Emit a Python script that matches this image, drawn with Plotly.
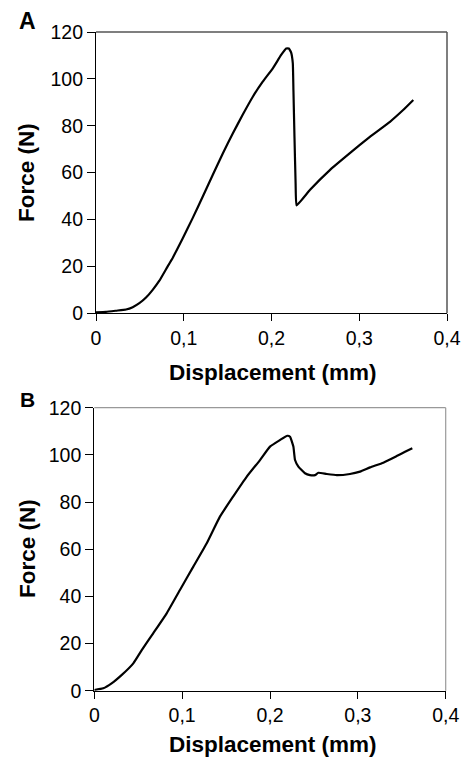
import plotly.graph_objects as go

# Panel A data (displacement mm, force N)
disp_a = [0.0, 0.0114, 0.0228, 0.0342, 0.0418, 0.0494, 0.057, 0.0646, 0.0722, 0.0798,
          0.0875, 0.0989, 0.110, 0.1217, 0.133, 0.1445, 0.156, 0.167, 0.1787, 0.190,
          0.2015, 0.211, 0.2167, 0.2198, 0.2224, 0.2243, 0.2250, 0.2262, 0.2275, 0.2285,
          0.2437, 0.2665, 0.2893, 0.3121, 0.335, 0.350, 0.3616]
force_a = [0.4, 0.6, 1.1, 1.6, 2.6, 4.3, 6.7, 10.0, 13.9, 18.8,
           23.7, 32.0, 40.5, 49.8, 59.0, 68.2, 76.8, 84.6, 92.4, 98.8,
           104.5, 110.2, 113.0, 113.0, 111.2, 106.6, 95.0, 75.0, 55.0, 46.0,
           52.6, 61.1, 68.3, 75.3, 81.7, 86.7, 91.0]

# Panel B data
disp_b = [0.0, 0.0102, 0.0197, 0.031, 0.0444, 0.054, 0.067, 0.0824, 0.0975, 0.1127,
          0.128, 0.143, 0.158, 0.1734, 0.1886, 0.2, 0.2114, 0.2197, 0.2228, 0.2266,
          0.2285, 0.2323, 0.2398, 0.2455, 0.2512, 0.255, 0.2645, 0.276, 0.291, 0.3025,
          0.3139, 0.329, 0.3442, 0.3537, 0.362]
force_b = [0.3, 1.0, 3.1, 6.6, 11.6, 17.2, 24.3, 32.8, 42.7, 52.6,
           62.5, 73.8, 82.3, 90.7, 97.8, 103.5, 106.3, 108.1, 107.7, 103.5,
           97.8, 95.0, 92.2, 91.4, 91.4, 92.4, 91.9, 91.4, 91.9, 92.9,
           94.7, 96.7, 99.5, 101.3, 102.8]

x_ticks = [0, 0.1, 0.2, 0.3, 0.4]
x_ticklabels = ["0", "0,1", "0,2", "0,3", "0,4"]
y_ticks = [0, 20, 40, 60, 80, 100, 120]

W, H = 467, 759
FONT = "Liberation Sans, Arial, Helvetica, sans-serif"

# pixel geometry
a_left, a_right, a_top, a_bot = 96.0, 447.0, 32.0, 313.3
b_left, b_right, b_top, b_bot = 94.3, 445.7, 407.7, 690.7

def px(xv):
    return xv / W

def py(yv):
    return 1 - yv / H

fig = go.Figure()
fig.add_trace(go.Scatter(x=disp_a, y=force_a, mode="lines",
                         line=dict(color="black", width=2.2, shape="spline", smoothing=0.3),
                         xaxis="x", yaxis="y", showlegend=False, hoverinfo="skip"))
fig.add_trace(go.Scatter(x=disp_b, y=force_b, mode="lines",
                         line=dict(color="black", width=2.2, shape="spline", smoothing=0.4),
                         xaxis="x2", yaxis="y2", showlegend=False, hoverinfo="skip"))

TICKSIZE = 19.5
common_x = dict(range=[0, 0.4], tickvals=x_ticks, ticktext=x_ticklabels, automargin=False,
                showgrid=False, zeroline=False, showline=True, linecolor="black",
                linewidth=1.2, ticks="outside", ticklen=7, tickcolor="black",
                tickwidth=1.2, tickfont=dict(family=FONT, size=TICKSIZE, color="black"))
common_y = dict(range=[0, 120], tickvals=y_ticks, showgrid=False, zeroline=False,
                automargin=False,
                showline=True, linecolor="black", linewidth=1.2, ticks="outside",
                ticklen=8, tickcolor="black", tickwidth=1.2,
                tickfont=dict(family=FONT, size=TICKSIZE, color="black"))

fig.update_layout(
    template="none",
    width=W, height=H, autosize=False,
    margin=dict(l=0, r=0, t=0, b=0, pad=0),
    paper_bgcolor="white", plot_bgcolor="white",
    xaxis=dict(domain=[px(a_left), px(a_right)], anchor="y", **common_x),
    yaxis=dict(domain=[py(a_bot), py(a_top)], anchor="x", **common_y),
    xaxis2=dict(domain=[px(b_left), px(b_right)], anchor="y2", **common_x),
    yaxis2=dict(domain=[py(b_bot), py(b_top)], anchor="x2", **common_y),
)

# top / right frame lines
fig.add_shape(type="line", xref="paper", yref="paper", x0=px(a_left), x1=px(a_right),
              y0=py(a_top), y1=py(a_top), line=dict(color="#555555", width=1.5))
fig.add_shape(type="line", xref="paper", yref="paper", x0=px(a_right), x1=px(a_right),
              y0=py(a_top), y1=py(a_bot), line=dict(color="#555555", width=1.5))
fig.add_shape(type="line", xref="paper", yref="paper", x0=px(b_left), x1=px(b_right),
              y0=py(b_top), y1=py(b_top), line=dict(color="#999999", width=1.2))
fig.add_shape(type="line", xref="paper", yref="paper", x0=px(b_right), x1=px(b_right),
              y0=py(b_top), y1=py(b_bot), line=dict(color="#999999", width=1.2))

title_font = dict(family=FONT, size=22.5, color="black")
ann = [
    dict(text="<b>A</b>", x=px(27), y=py(21), font=dict(family=FONT, size=23, color="black")),
    dict(text="<b>B</b>", x=px(27), y=py(399), font=dict(family=FONT, size=21, color="black")),
    dict(text="<b>Displacement (mm)</b>", x=px(273), y=py(372), font=title_font),
    dict(text="<b>Displacement (mm)</b>", x=px(273), y=py(744), font=title_font),
    dict(text="<b>Force (N)</b>", x=px(27), y=py(173), textangle=-90, font=title_font),
    dict(text="<b>Force (N)</b>", x=px(27), y=py(549), textangle=-90, font=title_font),
]
for a in ann:
    fig.add_annotation(xref="paper", yref="paper", showarrow=False,
                       xanchor="center", yanchor="middle", **a)

fig.write_html("out.html", config={"displayModeBar": False, "responsive": False},
               post_script="document.body.style.margin='0';document.body.style.padding='0';"
                           "document.body.style.overflow='hidden';")
